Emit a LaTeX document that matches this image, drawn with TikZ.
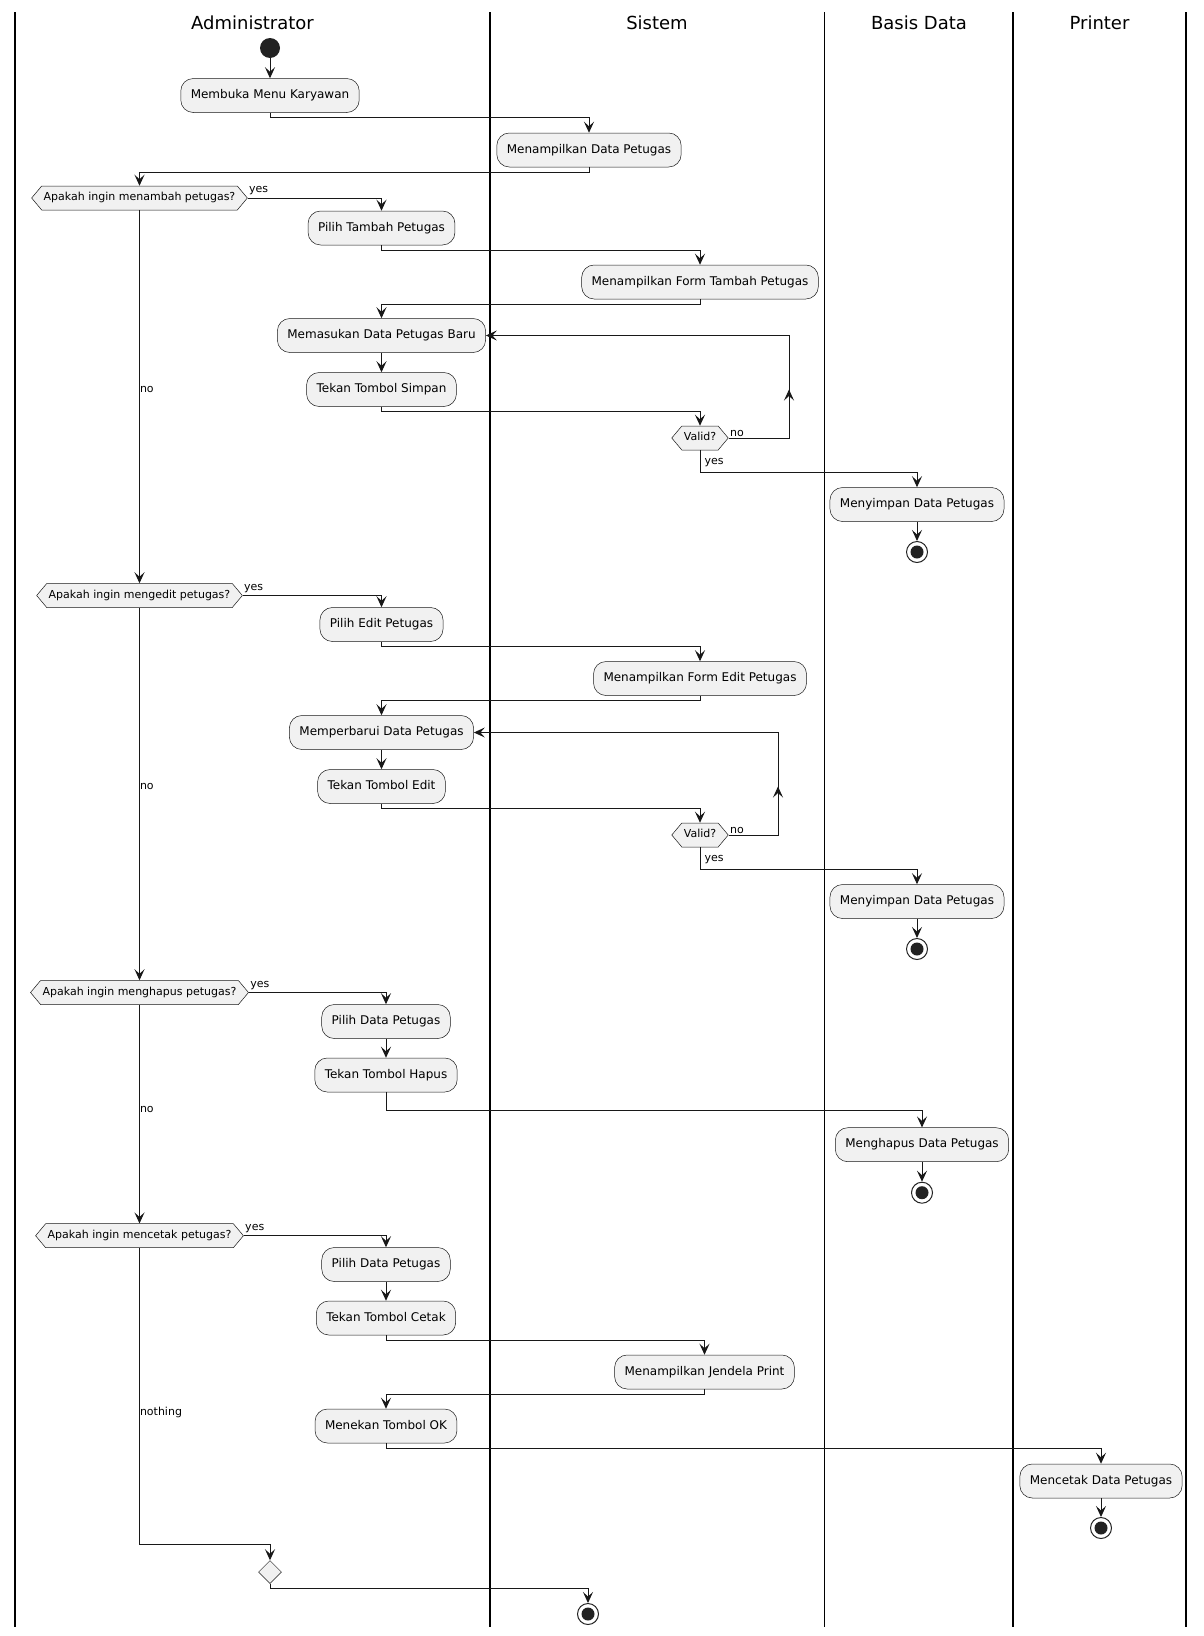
\documentclass[tikz,border=0pt]{standalone}
\usepackage{fontspec}
\setmainfont{DejaVu Sans}
\usetikzlibrary{positioning,shapes.symbols,shapes.geometric,arrows.meta}
\definecolor{actfill}{HTML}{F1F1F1}
\definecolor{ink}{HTML}{181818}
\definecolor{dot}{HTML}{222222}

\begin{document}
\begin{tikzpicture}[x=1pt, y=-1pt, node distance=54pt,
	action node/.style={rectangle, rounded corners=12.5pt, draw=ink, line width=0.5pt, fill=actfill, font=\fontsize{12}{14}\selectfont, text height=9pt, text depth=3pt, inner xsep=10pt, minimum height=34pt},
	decision node/.style={signal, signal to=east and west, signal pointer angle=100, draw=ink, line width=0.5pt, fill=actfill, font=\fontsize{11}{13}\selectfont, text height=8pt, text depth=2.5pt, inner xsep=2pt, inner ysep=6.75pt},
	start node/.style={circle, fill=dot, minimum size=20pt, inner sep=0pt},
	stop node/.style={circle, draw=dot, line width=1pt, fill=white, minimum size=21pt, inner sep=0pt, path picture={\fill[dot] (path picture bounding box.center) circle (6.5pt);}},
	merge node/.style={diamond, draw=ink, line width=0.5pt, fill=actfill, minimum size=23pt, inner sep=0pt},
	lane title/.style={font=\fontsize{18}{22}\selectfont, anchor=base},
	flow/.style={draw=ink, line width=1pt, -{Stealth[length=11pt, width=10pt, inset=4.5pt]}},
	arrow label/.style={font=\fontsize{11}{13}\selectfont, inner sep=1pt, anchor=west}]

	\useasboundingbox (0,0) rectangle (1204,1636);
	\foreach \x in {15,490,824.5,1013,1186}
		\draw[line width=1.5pt] (\x,12) -- (\x,1627);
	\node[lane title] (admin) at (252.5,29.5) {Administrator};
	\node[lane title] (sistem) at (657,29.5) {Sistem};
	\node[lane title] (basisdata) at (919,29.5) {Basis Data};
	\node[lane title] (printer) at (1099.5,29.5) {Printer};

	\node[start node] (start) at (270,48) {};
	\node[action node] (menu) at (270,95.5) {Membuka Menu Karyawan};
	\node[action node] (tampil) at (589,150) {Menampilkan Data Petugas};

	\node[decision node] (qtambah) at (139.5,198) {Apakah ingin menambah petugas?};
	\node[action node] (ptambah) at (381.5,228) {Pilih Tambah Petugas};
	\node[action node] (ftambah) at (700,282) {Menampilkan Form Tambah Petugas};
	\node[action node] (isi) at (381.5,335.5) {Memasukan Data Petugas Baru};
	\node[action node] (simpan) [below of=isi] {Tekan Tombol Simpan};
	\node[decision node] (valid1) at (700,438) {Valid?};
	\node[action node] (dbsimpan1) at (917,504.5) {Menyimpan Data Petugas};
	\node[stop node] (stop1) [below of=dbsimpan1, node distance=47.5pt] {};
	\coordinate (loop1) at (789,438);

	\node[decision node] (qedit) at (139.5,595.5) {Apakah ingin mengedit petugas?};
	\node[action node] (pedit) at (381.5,624.5) {Pilih Edit Petugas};
	\node[action node] (fedit) at (700,678.5) {Menampilkan Form Edit Petugas};
	\node[action node] (ubah) at (381.5,732.5) {Memperbarui Data Petugas};
	\node[action node] (edit) [below of=ubah] {Tekan Tombol Edit};
	\node[decision node] (valid2) at (700,835) {Valid?};
	\node[action node] (dbsimpan2) at (917,901.5) {Menyimpan Data Petugas};
	\node[stop node] (stop2) [below of=dbsimpan2, node distance=47.5pt] {};
	\coordinate (loop2) at (778,835);

	\node[decision node] (qhapus) at (139.5,992.5) {Apakah ingin menghapus petugas?};
	\node[action node] (phapus) at (386,1021.5) {Pilih Data Petugas};
	\node[action node] (hapus) [below of=phapus, node distance=53.5pt] {Tekan Tombol Hapus};
	\node[action node] (dbhapus) at (922,1144.7) {Menghapus Data Petugas};
	\node[stop node] (stop3) [below of=dbhapus, node distance=48pt] {};

	\node[decision node] (qcetak) at (139.5,1235.7) {Apakah ingin mencetak petugas?};
	\node[action node] (pcetak) at (386,1264.5) {Pilih Data Petugas};
	\node[action node] (cetak) [below of=pcetak, node distance=53.5pt] {Tekan Tombol Cetak};
	\node[action node] (jendela) at (704.5,1372) {Menampilkan Jendela Print};
	\node[action node] (ok) at (386,1426) {Menekan Tombol OK};
	\node[action node] (print) at (1101,1481) {Mencetak Data Petugas};
	\node[stop node] (stop4) [below of=print, node distance=47pt] {};
	\coordinate (join) at (139.5,1544);
	\node[merge node] (merge) at (270,1572) {};
	\node[stop node] (stop5) at (588,1614) {};

	\draw[flow] (start) -- (menu);
	\draw[flow] (menu.south) -- ++(0,5) -| (tampil.north);
	\draw[flow] (tampil.south) -- ++(0,5) -| (qtambah.north);

	\draw[flow] (qtambah.east) node[arrow label, yshift=7pt] {yes} -| (ptambah.north);
	\draw[flow] (ptambah.south) -- ++(0,5) -| (ftambah.north);
	\draw[flow] (ftambah.south) -- ++(0,5) -| (isi.north);
	\draw[flow] (isi) -- (simpan);
	\draw[flow] (simpan.south) -- ++(0,5) -| (valid1.north);
	\draw[flow] (valid1.east) node[arrow label, yshift=5pt] {no} -- (loop1) |- (isi.east);
	\draw[flow] (loop1) -- (loop1 |- simpan);
	\draw[flow] (valid1.south) node[arrow label, xshift=3pt, yshift=-12pt] {yes} -- ++(0,22) -| (dbsimpan1.north);
	\draw[flow] (dbsimpan1) -- (stop1);
	\draw[flow] (qtambah.south) -- node[arrow label, inner sep=0pt, pos=0.48] {no} (qedit.north);

	\draw[flow] (qedit.east) node[arrow label, yshift=7pt] {yes} -| (pedit.north);
	\draw[flow] (pedit.south) -- ++(0,5) -| (fedit.north);
	\draw[flow] (fedit.south) -- ++(0,5) -| (ubah.north);
	\draw[flow] (ubah) -- (edit);
	\draw[flow] (edit.south) -- ++(0,5) -| (valid2.north);
	\draw[flow] (valid2.east) node[arrow label, yshift=5pt] {no} -- (loop2) |- (ubah.east);
	\draw[flow] (loop2) -- (loop2 |- edit);
	\draw[flow] (valid2.south) node[arrow label, xshift=3pt, yshift=-12pt] {yes} -- ++(0,22) -| (dbsimpan2.north);
	\draw[flow] (dbsimpan2) -- (stop2);
	\draw[flow] (qedit.south) -- node[arrow label, inner sep=0pt, pos=0.48] {no} (qhapus.north);

	\draw[flow] (qhapus.east) node[arrow label, yshift=7pt] {yes} -| (phapus.north);
	\draw[flow] (phapus) -- (hapus);
	\draw[flow] (hapus.south) -- ++(0,18) -| (dbhapus.north);
	\draw[flow] (dbhapus) -- (stop3);
	\draw[flow] (qhapus.south) -- node[arrow label, inner sep=0pt, pos=0.48] {no} (qcetak.north);

	\draw[flow] (qcetak.east) node[arrow label, yshift=7pt] {yes} -| (pcetak.north);
	\draw[flow] (pcetak) -- (cetak);
	\draw[flow] (cetak.south) -- ++(0,5) -| (jendela.north);
	\draw[flow] (jendela.south) -- ++(0,5) -| (ok.north);
	\draw[flow] (ok.south) -- ++(0,5) -| (print.north);
	\draw[flow] (print) -- (stop4);
	\draw[flow] (qcetak.south) -- node[arrow label, inner sep=0pt, pos=0.554] {nothing} (join) -| (merge.north);
	\draw[flow] (merge.south) -- ++(0,5) -| (stop5.north);
\end{tikzpicture}
\end{document}
